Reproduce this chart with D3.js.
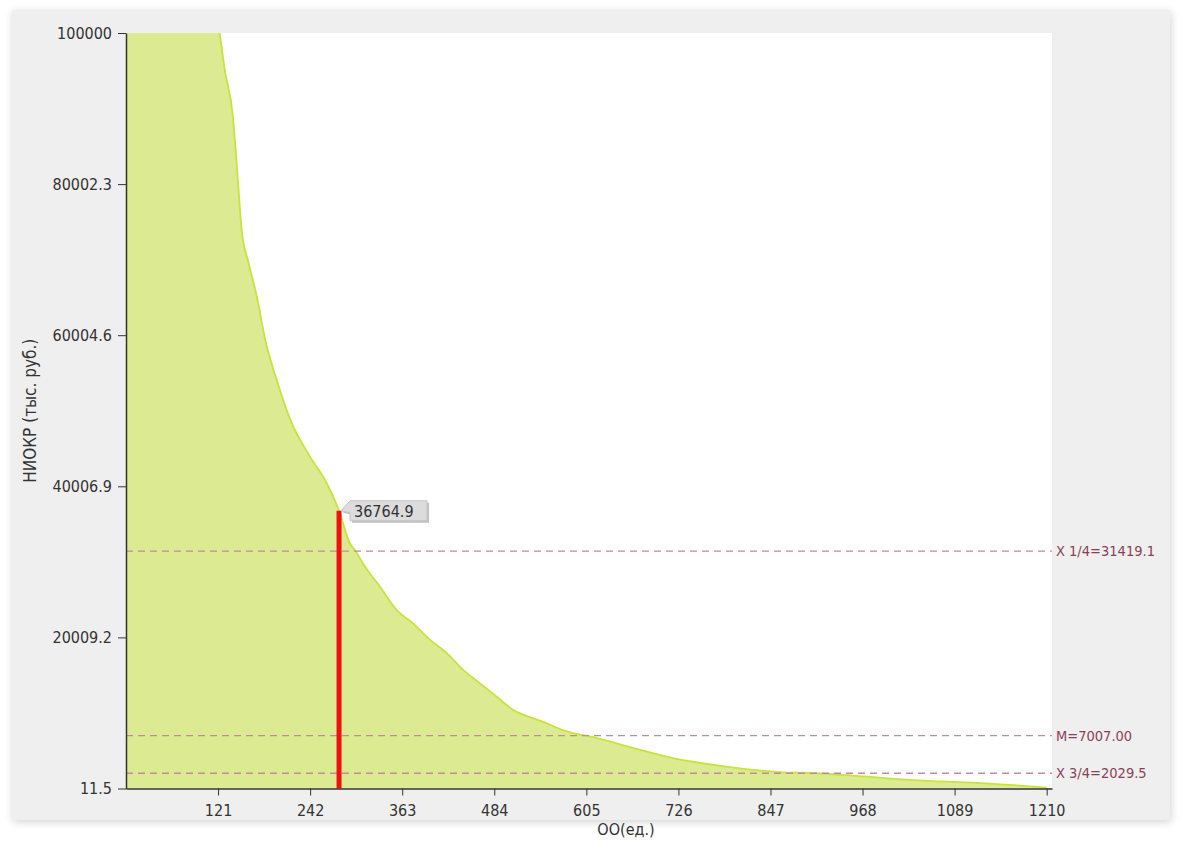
<!DOCTYPE html>
<html><head><meta charset="utf-8">
<script src="https://cdn.jsdelivr.net/npm/d3@7"></script>
<style>
html,body{margin:0;padding:0;background:#fff;}
svg{display:block;font-family:"DejaVu Sans Condensed","DejaVu Sans",Verdana,sans-serif;font-stretch:condensed;}
</style></head>
<body>
<svg id="c" width="1182" height="841"></svg>
<script>
// ---- data ----
const rank = [0, 123, 130, 140, 147, 152, 161, 172, 183, 198, 216, 242, 264, 280, 294, 302, 311, 334, 356, 377, 400, 422, 443, 465, 488, 509, 531, 553, 574, 600, 605, 619, 662, 719, 794, 859, 907, 947, 1034, 1122, 1201, 1210];
const niokr = [100000, 100000, 95000, 89400, 80600, 73900, 69600, 65100, 59400, 54100, 48800, 43900, 40400, 36764.9, 32500, 31419.1, 29850, 26700, 23600, 21900, 19650, 17900, 15700, 13950, 12100, 10400, 9450, 8650, 7750, 7080, 7007, 6690, 5500, 4040, 2850, 2190, 2029.5, 1780, 1120, 730, 200, 120];
const yTicks = [11.5, 20009.2, 40006.9, 60004.6, 80002.3, 100000];
const yTickLabels = ["11.5", "20009.2", "40006.9", "60004.6", "80002.3", "100000"];
const xTicks = [121, 242, 363, 484, 605, 726, 847, 968, 1089, 1210];
const refNames = ["X 1/4=31419.1", "M=7007.00", "X 3/4=2029.5"];
const refValues = [31419.1, 7007.00, 2029.5];
const markerRank = [280];
const markerValue = [36764.9];
const yTitle = "НИОКР (тыс. руб.)";
const xTitle = "ОО(ед.)";

// ---- layout ----
const svg = d3.select("#c");
const L = 126, R = 1052, T = 33, B = 788.5;
const x = d3.scaleLinear().domain([0, 1217]).range([L, R]);
const y = d3.scaleLinear().domain([11.5, 100000]).range([B, T]);

const defs = svg.append("defs");
const f = defs.append("filter").attr("id","sh").attr("x","-5%").attr("y","-5%").attr("width","110%").attr("height","110%");
f.append("feGaussianBlur").attr("in","SourceAlpha").attr("stdDeviation",4);
f.append("feOffset").attr("dx",1).attr("dy",2).attr("result","b");
f.append("feComponentTransfer").attr("in","b").attr("result","c").append("feFuncA").attr("type","linear").attr("slope",0.18);
const fm = f.append("feMerge"); fm.append("feMergeNode").attr("in","c"); fm.append("feMergeNode").attr("in","SourceGraphic");
svg.append("rect").attr("x",12).attr("y",10).attr("width",1158).attr("height",810)
  .attr("fill","#efefef").attr("filter","url(#sh)");
svg.append("rect").attr("x",L).attr("y",T).attr("width",R-L).attr("height",B-T).attr("fill","#ffffff");

defs.append("clipPath").attr("id","clip").append("rect").attr("x",L).attr("y",T).attr("width",R-L).attr("height",B-T);

const pts = rank.map((r,i)=>[r, niokr[i]]);
const area = d3.area().x(d=>x(d[0])).y0(y(11.5)).y1(d=>y(Math.min(d[1],100000))).curve(d3.curveMonotoneX);
const line = d3.line().x(d=>x(d[0])).y(d=>y(Math.min(d[1],100000))).curve(d3.curveMonotoneX);
const g = svg.append("g").attr("clip-path","url(#clip)");
g.append("path").datum(pts).attr("d",area).attr("fill","#dcea92");
g.append("path").datum(pts.slice(1)).attr("d",line).attr("fill","none").attr("stroke","#c6e43c").attr("stroke-width",1.8);

// reference lines
refValues.forEach((v,i)=>{
  svg.append("line").attr("x1",L).attr("x2",R).attr("y1",y(v)).attr("y2",y(v))
    .attr("stroke","#c48a9c").attr("stroke-width",1.3).attr("stroke-dasharray","7,5");
  svg.append("text").attr("x",R+4).attr("y",y(v)).attr("dy","0.36em")
    .attr("fill","#8a3f57").attr("font-size",14.5).text(refNames[i]);
});

// marker
markerRank.forEach((r,i)=>{
  svg.append("line").attr("x1",x(r)).attr("x2",x(r)).attr("y1",y(markerValue[i])).attr("y2",B)
    .attr("stroke","#ee1111").attr("stroke-width",5);
  const px = x(r)+2, py = y(markerValue[i]);
  const w = 77, h = 20;
  const gg = svg.append("g");
  const path = `M${px},${py} L${px+9},${py-10} L${px+9+w},${py-10} L${px+9+w},${py+h-10} L${px+9},${py+h-10} L${px+9},${py+2} Z`;
  gg.append("path").attr("d",path).attr("transform","translate(2,2)").attr("fill","#9a9a9a").attr("opacity",0.6);
  gg.append("path").attr("d",path).attr("fill","#dcdcdc").attr("stroke","#c4c4c4").attr("stroke-width",1);
  gg.append("text").attr("x",px+13).attr("y",py).attr("dy","0.36em").attr("font-size",16).attr("fill","#333")
    .text(d3.format(".1f")(markerValue[i]));
});

// axes
const yAxis = d3.axisLeft(y).tickValues(yTicks).tickFormat((d,i)=>yTickLabels[i]).tickSize(8).tickSizeOuter(0);
const ya = svg.append("g").attr("transform",`translate(${L},0)`).call(yAxis);
const xAxis = d3.axisBottom(x).tickValues(xTicks).tickFormat(d3.format("d")).tickSize(7).tickSizeOuter(0);
const xa = svg.append("g").attr("transform",`translate(0,${B})`).call(xAxis);
[ya,xa].forEach(a=>{
  a.attr("font-family",null);
  a.selectAll("text").attr("font-size",16).attr("fill","#333");
  a.selectAll("line").attr("stroke","#333");
  a.select(".domain").attr("stroke","#333").attr("stroke-width",1.5);
});
ya.selectAll("text").attr("x",-14);
xa.selectAll("text").attr("y",16);

svg.append("text").attr("transform",`translate(36,${(T+B)/2}) rotate(-90)`).attr("text-anchor","middle")
  .attr("font-size",17).attr("fill","#333").text(yTitle);
svg.append("text").attr("x",626).attr("y",835).attr("text-anchor","middle")
  .attr("font-size",16).attr("fill","#333").text(xTitle);
</script>
</body></html>
